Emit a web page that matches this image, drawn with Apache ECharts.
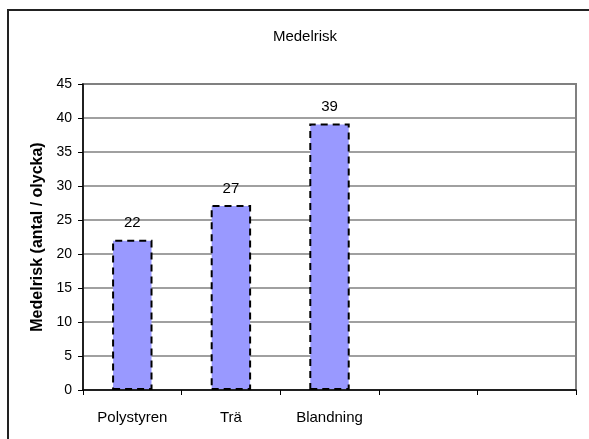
<!DOCTYPE html>
<html>
<head>
<meta charset="utf-8">
<script src="https://cdn.jsdelivr.net/npm/echarts@6/dist/echarts.min.js"></script>
<style>
  html, body { margin: 0; padding: 0; background: #fff; }
  #chart { width: 589px; height: 439px; }
</style>
</head>
<body>
<div id="chart"></div>
<script>
// kategorier (två tomma platser till höger, som i originalet)
const categories = ["Polystyren", "Trä", "Blandning", "", ""]
const medelrisk = [22.1, 27.2, 39.2, null, null]
const yTicks = [0, 5, 10, 15, 20, 25, 30, 35, 40, 45]

const font = "Liberation Sans, Arial, sans-serif"

const chart = echarts.init(document.getElementById("chart"))

const option = {
    animation: false,
    backgroundColor: "#fff",
    textStyle: { fontFamily: font },
    title: {
        text: "Medelrisk",
        left: 300,
        top: 24,
        textAlign: "center",
        textStyle: { fontSize: 15, fontWeight: "normal", color: "#000", fontFamily: font }
    },
    grid: {
        left: 83, right: 13, top: 84, bottom: 49,
        show: true,
        borderColor: "#808080",
        borderWidth: 2
    },
    xAxis: {
        type: "category",
        data: categories,
        boundaryGap: true,
        axisLine: { lineStyle: { color: "#000", width: 1.5 } },
        axisTick: { show: true, length: 5, alignWithLabel: false, lineStyle: { color: "#000" } },
        axisLabel: { color: "#000", fontSize: 15, margin: 20, fontFamily: font, interval: 0 }
    },
    yAxis: {
        type: "value",
        min: yTicks[0],
        max: yTicks[yTicks.length - 1],
        interval: 5,
        name: "Medelrisk (antal / olycka)",
        nameLocation: "middle",
        nameGap: 37,
        nameTextStyle: { fontSize: 16, fontWeight: "bold", color: "#000", fontFamily: font },
        axisLine: { show: true, lineStyle: { color: "#000", width: 1.5 } },
        axisTick: { show: true, length: 5, lineStyle: { color: "#000" } },
        axisLabel: { color: "#000", fontSize: 14, margin: 11, fontFamily: font },
        splitLine: { show: true, lineStyle: { color: "#808080", width: 1.5 } }
    },
    series: [{
        type: "bar",
        data: medelrisk,
        barWidth: "41%",
        itemStyle: {
            color: "#9999FF",
            borderColor: "#000",
            borderWidth: 2,
            borderType: [7, 5]
        },
        label: {
            show: true,
            position: "top",
            distance: 9,
            color: "#000",
            fontSize: 15,
            fontFamily: font,
            formatter: p => Math.round(p.value)
        }
    }],
    graphic: [{
        type: "rect",
        silent: true,
        shape: { x: 8, y: 10, width: 700, height: 600 },
        style: { fill: null, stroke: "#222", lineWidth: 2 }
    }]
}

chart.setOption(option)
</script>
</body>
</html>
